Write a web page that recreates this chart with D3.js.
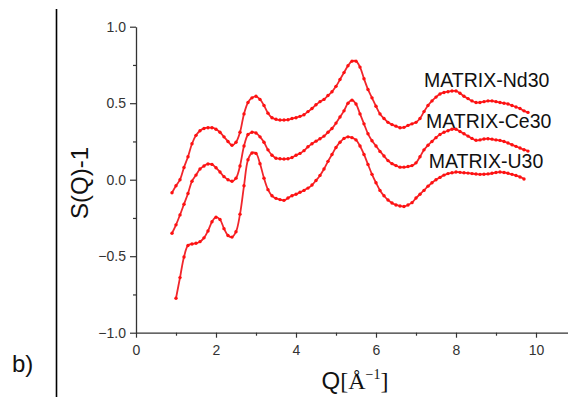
<!DOCTYPE html>
<html>
<head>
<meta charset="utf-8">
<script src="https://cdn.jsdelivr.net/npm/d3@7"></script>
<style>
  body { margin: 0; background: #fff; }
  svg { display: block; }
</style>
</head>
<body>
<div id="chart"></div>
<script>
// Q grid (Å^-1) shared by the three curves
const qValues = [0.9, 1.0, 1.1, 1.2, 1.3, 1.4, 1.5, 1.6, 1.7, 1.8, 1.9,
  2.0, 2.1, 2.2, 2.3, 2.4, 2.5, 2.6, 2.7, 2.8, 2.9,
  3.0, 3.1, 3.2, 3.3, 3.4, 3.5, 3.6, 3.7, 3.8, 3.9,
  4.0, 4.1, 4.2, 4.3, 4.4, 4.5, 4.6, 4.7, 4.8, 4.9,
  5.0, 5.1, 5.2, 5.3, 5.4, 5.5, 5.6, 5.7, 5.8, 5.9,
  6.0, 6.1, 6.2, 6.3, 6.4, 6.5, 6.6, 6.7, 6.8, 6.9,
  7.0, 7.1, 7.2, 7.3, 7.4, 7.5, 7.6, 7.7, 7.8, 7.9,
  8.0, 8.1, 8.2, 8.3, 8.4, 8.5, 8.6, 8.7, 8.8, 8.9,
  9.0, 9.1, 9.2, 9.3, 9.4, 9.5, 9.6, 9.7, 9.8];

// S(Q)-1
const nd30 = [-0.085, -0.04, 0.0, 0.08, 0.15, 0.235, 0.29, 0.32, 0.335, 0.34, 0.34,
  0.33, 0.31, 0.28, 0.25, 0.225, 0.245, 0.31, 0.43, 0.505, 0.535,
  0.545, 0.525, 0.485, 0.435, 0.405, 0.395, 0.39, 0.39, 0.392, 0.40,
  0.405, 0.414, 0.425, 0.445, 0.465, 0.49, 0.51, 0.525, 0.55, 0.575,
  0.61, 0.655, 0.70, 0.745, 0.775, 0.775, 0.736, 0.66, 0.59, 0.535,
  0.48, 0.43, 0.40, 0.375, 0.36, 0.35, 0.34, 0.342, 0.355, 0.365,
  0.375, 0.40, 0.445, 0.485, 0.515, 0.54, 0.56, 0.57, 0.575, 0.58,
  0.58, 0.565, 0.545, 0.53, 0.515, 0.505, 0.505, 0.51, 0.515, 0.515,
  0.51, 0.505, 0.50, 0.495, 0.485, 0.475, 0.465, 0.45, 0.44];

const ce30 = [-0.35, -0.295, -0.23, -0.16, -0.09, -0.01, 0.03, 0.07, 0.09, 0.103, 0.10,
  0.078, 0.05, 0.02, 0.0, -0.01, 0.01, 0.09, 0.22, 0.295, 0.31,
  0.305, 0.28, 0.245, 0.195, 0.16, 0.14, 0.137, 0.135, 0.137, 0.145,
  0.16, 0.172, 0.19, 0.215, 0.235, 0.252, 0.268, 0.285, 0.31, 0.335,
  0.37, 0.41, 0.45, 0.50, 0.52, 0.495, 0.43, 0.365, 0.30, 0.255,
  0.22, 0.185, 0.155, 0.125, 0.105, 0.092, 0.082, 0.082, 0.086, 0.092,
  0.11, 0.15, 0.195, 0.225, 0.25, 0.275, 0.295, 0.31, 0.32, 0.33,
  0.33, 0.315, 0.30, 0.285, 0.27, 0.258, 0.26, 0.266, 0.268, 0.265,
  0.26, 0.257, 0.25, 0.24, 0.228, 0.218, 0.207, 0.196, 0.187];

const u30 = [null, -0.775, -0.64, -0.505, -0.43, -0.42, -0.415, -0.405, -0.38, -0.335, -0.275,
  -0.245, -0.26, -0.32, -0.365, -0.375, -0.34, -0.225, -0.04, 0.13, 0.175,
  0.172, 0.105, 0.01, -0.065, -0.105, -0.122, -0.13, -0.135, -0.12, -0.105,
  -0.095, -0.082, -0.07, -0.055, -0.035, -0.005, 0.028, 0.07, 0.12, 0.165,
  0.21, 0.245, 0.27, 0.28, 0.275, 0.26, 0.22, 0.165, 0.10, 0.035,
  -0.02, -0.07, -0.105, -0.133, -0.152, -0.165, -0.172, -0.175, -0.165, -0.15,
  -0.12, -0.095, -0.07, -0.042, -0.02, 0.0, 0.015, 0.03, 0.04, 0.045,
  0.05, 0.048, 0.045, 0.043, 0.04, 0.037, 0.035, 0.036, 0.038, 0.042,
  0.047, 0.05, 0.047, 0.042, 0.035, 0.027, 0.018, 0.005, null];

const seriesNames = ["MATRIX-Nd30", "MATRIX-Ce30", "MATRIX-U30"];
const seriesValues = [nd30, ce30, u30];
// where each label sits (Q, S(Q)-1 of its baseline)
const labelQ = [7.2, 7.25, 7.32];
const labelY = [0.605, 0.335, 0.075];

const xTicks = [0, 2, 4, 6, 8, 10];
const yTicks = [-1.0, -0.5, 0.0, 0.5, 1.0];

const width = 568, height = 397;

let svg = d3.select("#chart").append("svg")
  .attr("width", width)
  .attr("height", height);

let x = d3.scaleLinear().domain([0, 10.8]).range([136, 568]);
let y = d3.scaleLinear().domain([-1, 1]).range([332.7, 26.7]);

// panel separator line and panel letter
svg.append("line")
  .attr("x1", 56.5).attr("x2", 56.5)
  .attr("y1", 9).attr("y2", height)
  .attr("stroke", "#000").attr("stroke-width", 1.6);

svg.append("text")
  .attr("x", 12).attr("y", 372)
  .attr("font-family", "Liberation Sans, Arial, sans-serif")
  .attr("font-size", 24)
  .attr("fill", "#111")
  .text("b)");

// axes
let axisColor = "#333";
let tickFont = "Liberation Sans, Arial, sans-serif";

let xAxis = svg.append("g")
  .attr("transform", "translate(0," + y(-1) + ")")
  .call(d3.axisBottom(x).tickValues(xTicks).tickFormat(d3.format("d")).tickSize(5).tickSizeOuter(0));
xAxis.append("g")
  .call(d3.axisBottom(x).tickValues([1, 3, 5, 7, 9]).tickFormat("").tickSize(3).tickSizeOuter(0))
  .select(".domain").remove();

let yAxis = svg.append("g")
  .attr("transform", "translate(" + x(0) + ",0)")
  .call(d3.axisLeft(y).tickValues(yTicks).tickFormat(d3.format(".1f")).tickSize(6).tickSizeOuter(0));
yAxis.append("g")
  .call(d3.axisLeft(y).tickValues([-0.75, -0.25, 0.25, 0.75]).tickFormat("").tickSize(3).tickSizeOuter(0))
  .select(".domain").remove();

svg.selectAll(".domain").attr("stroke", axisColor).attr("stroke-width", 1.3);
svg.selectAll(".tick line").attr("stroke", axisColor).attr("stroke-width", 1.2);
svg.selectAll(".tick text")
  .attr("font-family", tickFont)
  .attr("font-size", 14)
  .attr("fill", "#333");
xAxis.selectAll(".tick text").attr("dy", "1.0em");
yAxis.selectAll(".tick text").attr("x", -10);

// axis titles
svg.append("text")
  .attr("transform", "translate(88,183) rotate(-90)")
  .attr("text-anchor", "middle")
  .attr("font-family", "Liberation Sans, Arial, sans-serif")
  .attr("font-size", 24)
  .attr("fill", "#111")
  .text("S(Q)-1");

let xTitle = svg.append("text")
  .attr("x", 355).attr("y", 389)
  .attr("text-anchor", "middle")
  .attr("font-size", 24)
  .attr("fill", "#111");
xTitle.append("tspan").attr("font-family", "Liberation Sans, Arial, sans-serif").text("Q");
xTitle.append("tspan").attr("font-family", "Liberation Serif, Times New Roman, serif").text("[Å");
xTitle.append("tspan").attr("font-family", "Liberation Serif, Times New Roman, serif")
  .attr("font-size", 14).attr("dy", -10).text("−1");
xTitle.append("tspan").attr("font-family", "Liberation Serif, Times New Roman, serif")
  .attr("dy", 10).text("]");

// curves
let line = d3.line()
  .defined(d => d[1] != null)
  .x(d => x(d[0]))
  .y(d => y(d[1]))
  .curve(d3.curveCatmullRom);

let gCurves = svg.append("g");

seriesValues.forEach((vals, i) => {
  let pts = qValues.map((q, j) => [q, vals[j]]);

  gCurves.append("path")
    .datum(pts)
    .attr("d", line)
    .attr("fill", "none")
    .attr("stroke", "#f0262c")
    .attr("stroke-width", 1.8);

  gCurves.append("g").selectAll("circle")
    .data(pts.filter(d => d[1] != null))
    .enter().append("circle")
    .attr("cx", d => x(d[0]))
    .attr("cy", d => y(d[1]))
    .attr("r", 1.7)
    .attr("fill", "#ff1010");

  svg.append("text")
    .attr("x", x(labelQ[i]))
    .attr("y", y(labelY[i]))
    .attr("font-family", "Liberation Sans, Arial, sans-serif")
    .attr("font-size", 19.5)
    .attr("fill", "#111")
    .text(seriesNames[i]);
});
</script>
</body>
</html>
